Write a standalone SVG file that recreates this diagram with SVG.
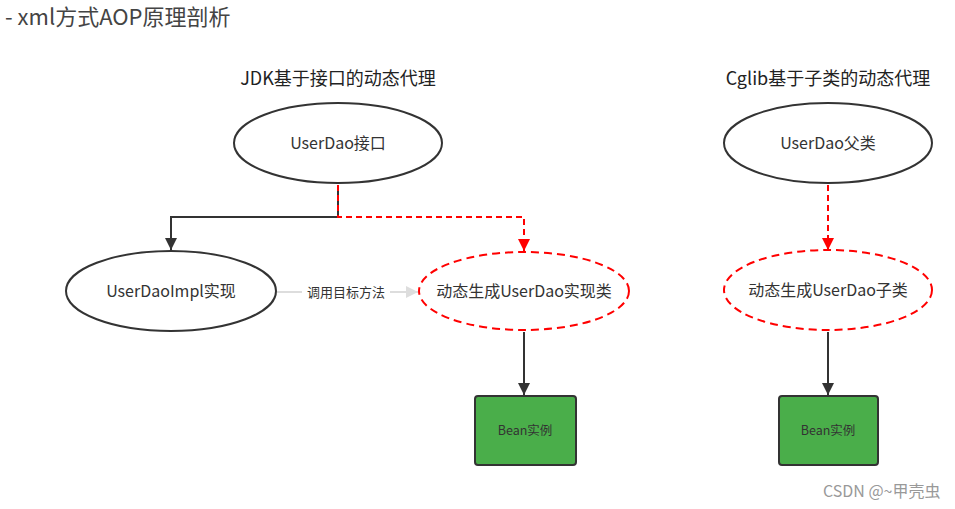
<svg xmlns="http://www.w3.org/2000/svg" width="955" height="509" viewBox="0 0 955 509">
<defs>
<marker id="ab" markerWidth="12" markerHeight="12" refX="10" refY="5" orient="auto" markerUnits="userSpaceOnUse" viewBox="0 0 10 10"><path d="M0,0 L10,5 L0,10 Z" fill="#333"/></marker>
<marker id="ar" markerWidth="12" markerHeight="12" refX="10" refY="5" orient="auto" markerUnits="userSpaceOnUse" viewBox="0 0 10 10"><path d="M0,0 L10,5 L0,10 Z" fill="#ff0000"/></marker>
<marker id="ag" markerWidth="12" markerHeight="12" refX="10" refY="5" orient="auto" markerUnits="userSpaceOnUse" viewBox="0 0 10 10"><path d="M0,0 L10,5 L0,10 Z" fill="#dddddd"/></marker>
</defs>
<style>
text{font-family:"Microsoft YaHei","Noto Sans CJK SC","Noto Sans",sans-serif;fill:#333}
.node{fill:#fff;stroke:#333;stroke-width:2}
.dash{fill:#fff;stroke:#ff0000;stroke-width:2;stroke-dasharray:8 5}
.bean{fill:#4aae4a;stroke:#333;stroke-width:2}
.lbl{font-size:16px;text-anchor:middle}
.ttl{font-size:18px;text-anchor:middle;fill:#222}
.blk{fill:none;stroke:#333;stroke-width:2}
.red{fill:none;stroke:#ff0000;stroke-width:2;stroke-dasharray:6 4}
</style>
<rect width="955" height="509" fill="#fff"/>
<text x="5" y="25" style="font-size:22px;fill:#444">- xml方式AOP原理剖析</text>
<text x="338" y="85" class="ttl">JDK基于接口的动态代理</text>
<text x="828" y="85" class="ttl">Cglib基于子类的动态代理</text>
<g id="connectors">
<path class="blk" d="M338,185 V217 H171 V250" marker-end="url(#ab)"/>
<path class="red" d="M338,185 V217 H524 V251" marker-end="url(#ar)"/>
<path d="M277,292 H418" fill="none" stroke="#dddddd" stroke-width="2" marker-end="url(#ag)"/>
<rect x="302" y="284" width="88" height="16" fill="#fff"/>
<text x="346" y="297" style="font-size:13px;text-anchor:middle">调用目标方法</text>
<path class="blk" d="M524,332 V395" marker-end="url(#ab)"/>
<path class="red" d="M828,185 V250" marker-end="url(#ar)"/>
<path class="blk" d="M828,332 V395" marker-end="url(#ab)"/>
</g>
<g id="n1"><ellipse class="node" cx="338" cy="143" rx="104" ry="40"/><text x="338" y="149" class="lbl">UserDao接口</text></g>
<g id="n2"><ellipse class="node" cx="171" cy="291" rx="105" ry="40"/><text x="171" y="297" class="lbl">UserDaoImpl实现</text></g>
<g id="n3"><ellipse class="dash" cx="524" cy="291" rx="105" ry="39"/><text x="524" y="297" class="lbl">动态生成UserDao实现类</text></g>
<g id="n4"><rect class="bean" x="475" y="396" width="101" height="69" rx="3"/><text x="525" y="435" style="font-size:12.5px;text-anchor:middle">Bean实例</text></g>
<g id="n5"><ellipse class="node" cx="828" cy="143" rx="104" ry="40"/><text x="828" y="149" class="lbl">UserDao父类</text></g>
<g id="n6"><ellipse class="dash" cx="828" cy="290" rx="104" ry="40"/><text x="828" y="296" class="lbl">动态生成UserDao子类</text></g>
<g id="n7"><rect class="bean" x="779" y="396" width="99" height="69" rx="3"/><text x="828" y="435" style="font-size:12.5px;text-anchor:middle">Bean实例</text></g>
<text x="823" y="497" style="font-size:16px;fill:#999">CSDN @~甲壳虫</text>
</svg>
